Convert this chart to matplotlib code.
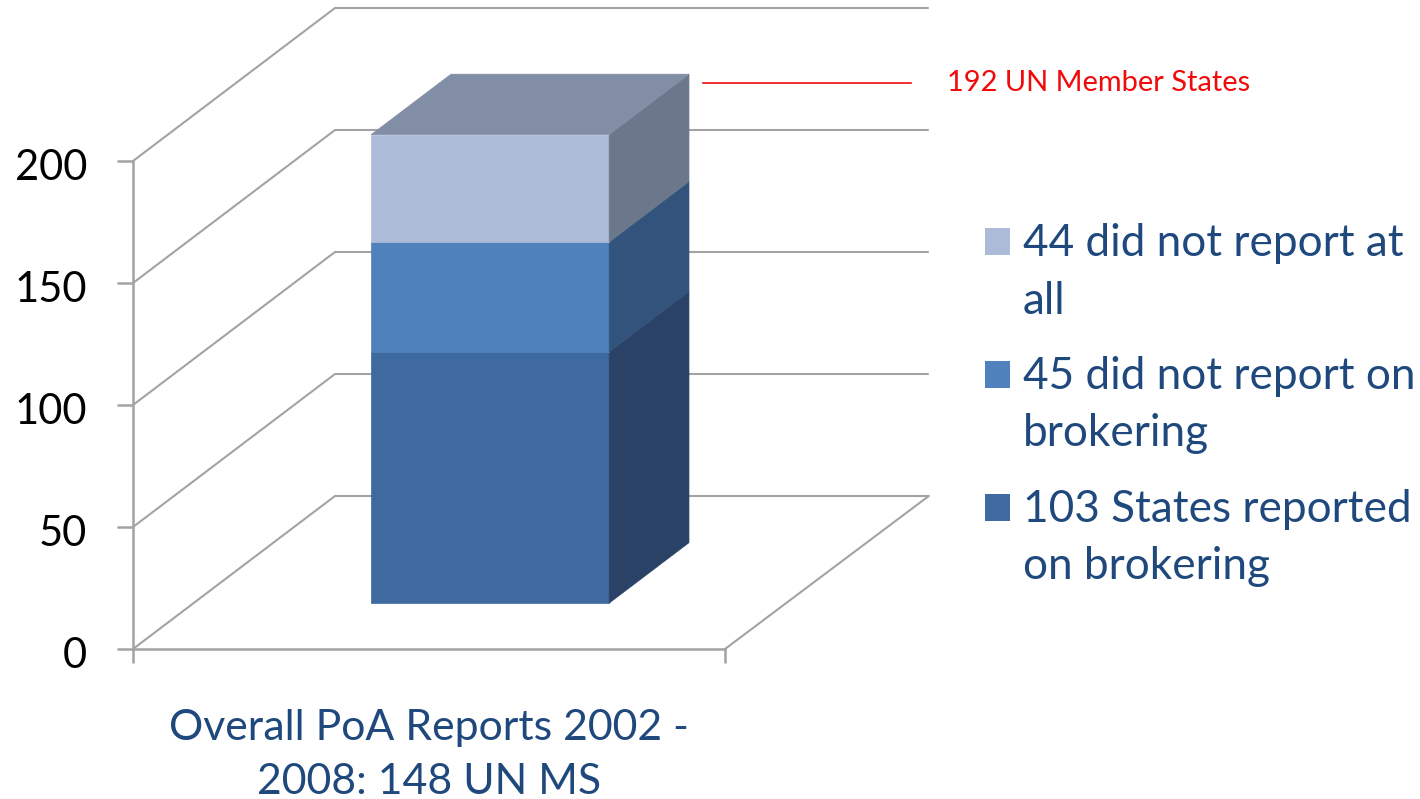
import matplotlib
matplotlib.use("Agg")
import matplotlib.pyplot as plt
from matplotlib.patches import Polygon, Patch
from matplotlib.transforms import ScaledTranslation

plt.rcParams['font.family'] = ['Lato', 'DejaVu Sans']

category = "Overall PoA Reports 2002 -\n2008: 148 UN MS"
series_labels = ["44 did not report at\nall", "45 did not report on\nbrokering", "103 States reported\non brokering"]
series_values = [44, 45, 103]
total_label = "192 UN Member States"
yticks = [0, 50, 100, 150, 200]

front_cols = ["#ACBBD8", "#4F81BD", "#3F6A9F"]
side_cols = ["#6B778A", "#32547C", "#2A4265"]
top_col = "#828EA6"
grid_col = "#A3A3A3"
text_col = "#1F497D"
red = "#F00A0A"

W, H = 1420, 799
fig = plt.figure(figsize=(W/100, H/100), dpi=100)
ax = fig.add_axes([133/W, (H-649)/H, 592/W, 488/H])
ax.set_xlim(0, 1)
ax.set_ylim(0, 200)
ax.patch.set_visible(False)

DX = 202/592
DY = 153/2.44
def P(x, v, z):
    return (x + DX*z, v + DY*z)

for t in yticks:
    xs, ys = zip(P(0, t, 0), P(0, t, 1), P(1.003, t, 1))
    ax.plot(xs, ys, color=grid_col, lw=1.5, clip_on=False, zorder=1, solid_capstyle='butt')
xs, ys = zip(P(1, 0, 0), P(1.003, 0, 1))
ax.plot(xs, ys, color=grid_col, lw=1.5, clip_on=False, zorder=1)

x0, x1, z0, z1 = 0.30, 0.702, 0.30, 0.695
base = 0
stack = list(zip(series_values[::-1], front_cols[::-1], side_cols[::-1]))
for val, fc, sc in stack:
    top = base + val
    ax.add_patch(Polygon([P(x0, base, z0), P(x1, base, z0), P(x1, top, z0), P(x0, top, z0)],
                         closed=True, fc=fc, ec=fc, lw=0.5, clip_on=False, zorder=3))
    ax.add_patch(Polygon([P(x1, base, z0), P(x1, base, z1), P(x1, top, z1), P(x1, top, z0)],
                         closed=True, fc=sc, ec=sc, lw=0.5, clip_on=False, zorder=3))
    base = top
ax.add_patch(Polygon([P(x0, base, z0), P(x1, base, z0), P(x1, base, z1), P(x0, base, z1)],
                     closed=True, fc=top_col, ec=top_col, lw=0.5, clip_on=False, zorder=3))

for s in ['top', 'right']:
    ax.spines[s].set_visible(False)
for s in ['left', 'bottom']:
    ax.spines[s].set_color(grid_col)
    ax.spines[s].set_linewidth(1.8)
ax.set_yticks(yticks)
ax.tick_params(axis='y', length=11.5, width=1.8, color=grid_col, labelsize=30, labelcolor='black', pad=21.5, direction='out')
down = ScaledTranslation(0, -3/72*0.72*1.0, fig.dpi_scale_trans)
for lab in ax.get_yticklabels():
    lab.set_transform(lab.get_transform() + down)
ax.set_xticks([0, 1])
ax.set_xticklabels(['', ''])
ax.tick_params(axis='x', length=10, width=1.8, color=grid_col)
ax.text(0.5, -43.4, category, ha='center', va='center', fontsize=30.8, color=text_col,
        linespacing=1.54, clip_on=False)

fig.add_artist(plt.Line2D([703/W, 911/W], [(H-83)/H]*2, color=red, lw=1.2))
fig.text(947/W, (H-83)/H, total_label, color=red, fontsize=20.9, va='center', ha='left')

handles = [Patch(fc=c, ec='none') for c in front_cols]
leg = fig.legend(handles, series_labels, loc='upper left', bbox_to_anchor=(985/W, (H-223)/H),
                 frameon=False, fontsize=31.8, labelcolor=text_col, handlelength=0.56, handleheight=0.56,
                 handletextpad=0.29, labelspacing=0.78, borderpad=0, borderaxespad=0)
for t in leg.get_texts():
    t.set_linespacing(1.5)
for h in leg.legend_handles:
    h.set_y(h.get_y() + 22.5)

fig.savefig("out.png", dpi=100)
